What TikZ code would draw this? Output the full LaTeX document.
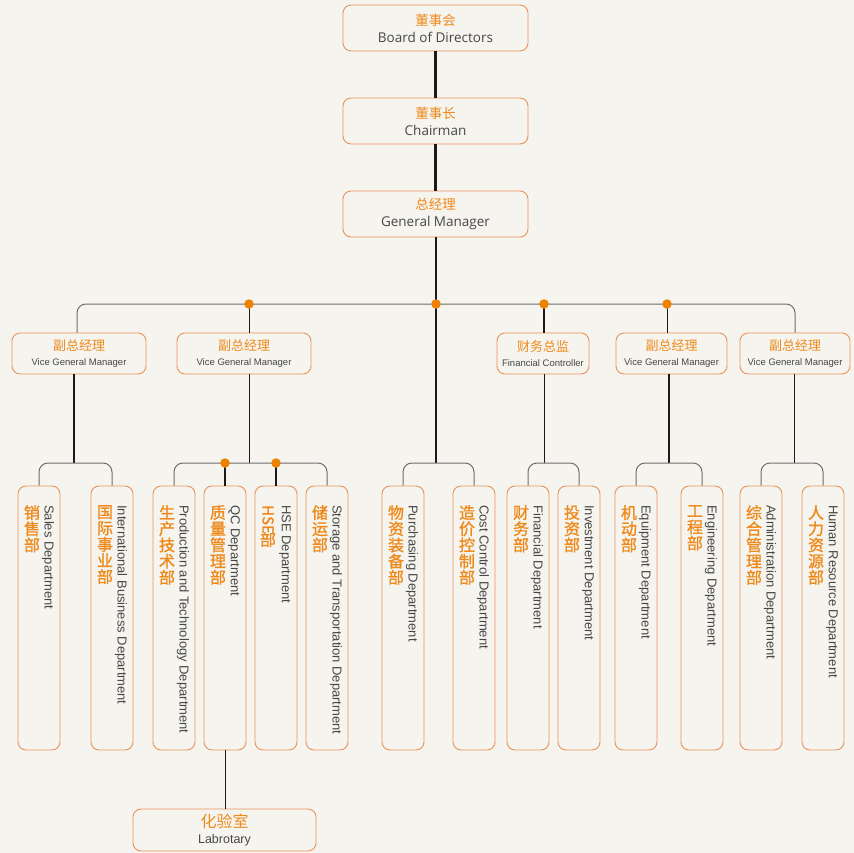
\documentclass[tikz,border=0pt]{standalone}
\usepackage{fontspec}
\setmainfont{Liberation Sans}
\newfontfamily\cjk{Noto Sans CJK SC}
\newfontfamily\cjkb{Noto Sans CJK SC}[FakeBold=1.2]
\newfontfamily\topfont{Open Sans}
\definecolor{bg}{HTML}{F6F4EE}
\definecolor{boxc}{HTML}{E9935A}
\definecolor{orangec}{HTML}{EE8A1C}
\definecolor{grayc}{HTML}{474747}
\definecolor{linec}{HTML}{1C1A18}
\definecolor{busc}{HTML}{6E6E6E}
\definecolor{dotc}{HTML}{EE8200}
\tikzset{
  box/.style={draw=boxc, line width=0.9pt, rounded corners=8pt, fill=bg, inner sep=0pt, align=center},
  topbox/.style={box, minimum width=185pt, minimum height=46pt, font=\fontsize{13.5}{17}\selectfont},
  vbox/.style={box, minimum height=41pt, font=\fontsize{9.5}{15}\selectfont},
  deptbox/.style={box, minimum width=42pt, minimum height=264pt},
  thickl/.style={draw=linec, line width=2.2pt},
  thinl/.style={draw=linec, line width=1pt},
  busl/.style={draw=busc, line width=1pt, rounded corners=9pt},
  dot/.style={circle, fill=dotc, inner sep=0pt, minimum size=9.5pt},
  cn/.style={font=\cjkb\fontsize{16}{16.2}\selectfont, text=orangec, align=center, inner sep=0pt, anchor=north},
  en/.style={font=\fontsize{13}{15}\selectfont, text=grayc, rotate=-90, anchor=west, inner sep=0pt}
}
\newcommand\deptnode[4]{%
  \node[deptbox] (#1) at (#2+21,618) {};
  \node[cn] (#1c) at (#2+14,505) {#3};
  \node[en] (#1e) at (#2+30,505) {#4};
}
\begin{document}
\begin{tikzpicture}[x=1pt,y=-1pt]
\useasboundingbox[fill=bg] (0,0) rectangle (854,853);

% top chain
\node[topbox] (bod) at (435.5,28) {{\cjk\color{orangec}董事会}\\{\topfont\color{grayc}Board of Directors}};
\node[topbox] (chair) at (435.5,121) {{\cjk\color{orangec}董事长}\\{\topfont\color{grayc}Chairman}};
\node[topbox] (gm) at (435.5,214) {{\cjk\color{orangec}总经理}\\{\topfont\color{grayc}General Manager}};

% level 2
\node[vbox, minimum width=134pt] (v1) at (79,353.5) {{\cjk\fontsize{13}{15}\selectfont\color{orangec}副总经理}\\{\color{grayc}Vice General Manager}};
\node[vbox, minimum width=134pt] (v2) at (244,353.5) {{\cjk\fontsize{13}{15}\selectfont\color{orangec}副总经理}\\{\color{grayc}Vice General Manager}};
\node[vbox, minimum width=92pt] (fc) at (543,353.5) {{\cjk\fontsize{13}{15}\selectfont\color{orangec}财务总监}\\{\color{grayc}Financial Controller}};
\node[vbox, minimum width=111pt] (v4) at (671.5,353.5) {{\cjk\fontsize{13}{15}\selectfont\color{orangec}副总经理}\\{\color{grayc}Vice General Manager}};
\node[vbox, minimum width=110pt] (v5) at (795,353.5) {{\cjk\fontsize{13}{15}\selectfont\color{orangec}副总经理}\\{\color{grayc}Vice General Manager}};

% level 3
\deptnode{sales}{18}{销\\售\\部}{Sales Department}
\deptnode{intl}{91}{国\\际\\事\\业\\部}{International Business Department}
\deptnode{prod}{153}{生\\产\\技\\术\\部}{Production and Technology Department}
\deptnode{qc}{204}{质\\量\\管\\理\\部}{QC Department}
\node[deptbox] (hse) at (276,618) {};
\node[font=\cjkb\fontsize{15}{15}\selectfont, text=orangec, rotate=-90, anchor=west, inner sep=0pt] (hsec1) at (268,505) {HSE};
\node[cn] (hsec2) at (268,532) {部};
\node[en] (hsee) at (285,505) {HSE Department};
\deptnode{stor}{306}{储\\运\\部}{Storage and Transportation Department}
\deptnode{purch}{382}{物\\资\\装\\备\\部}{Purchasing Department}
\deptnode{cost}{453}{造\\价\\控\\制\\部}{Cost Control Department}
\deptnode{fin}{507}{财\\务\\部}{Financial Department}
\deptnode{inv}{558}{投\\资\\部}{Investment Department}
\deptnode{equip}{615}{机\\动\\部}{Equipment Department}
\deptnode{eng}{681}{工\\程\\部}{Engineering Department}
\deptnode{admin}{740}{综\\合\\管\\理\\部}{Administration Department}
\deptnode{hr}{802}{人\\力\\资\\源\\部}{Human Resource Department}

% laboratory
\node[box, minimum width=183pt, minimum height=42pt, font=\fontsize{12.5}{16}\selectfont] (lab) at (224.5,830) {{\cjk\fontsize{16}{16}\selectfont\color{orangec}化验室}\\{\color{grayc}Labrotary}};

% coordinates
\coordinate (b1) at (77,304);
\coordinate (b2) at (249,304);
\coordinate (b3) at (436,304);
\coordinate (b4) at (544,304);
\coordinate (b5) at (667,304);
\coordinate (s1) at (74,463);
\coordinate (s2) at (249,463);
\coordinate (s3) at (436,463);
\coordinate (s4) at (544,463);
\coordinate (s5) at (669,463);
\coordinate (s6) at (794,463);

% top chain lines
\draw[thickl] (bod) -- (chair);
\draw[thickl] (chair) -- (gm);
\draw[thickl] (gm.south -| s3) -- (s3);

% main bus
\draw[busl] (v1.north -| b1) |- (b3) -| (v5.north);
\draw[thinl] (b2) -- (v2.north -| b2);
\draw[thickl] (b4) -- (fc.north -| b4);
\draw[thinl] (b5) -- (v4.north -| b5);

% level 2 down lines
\draw[thickl] (v1.south -| s1) -- (s1);
\draw[thinl] (v2.south -| s2) -- (s2);
\draw[thinl] (fc.south -| s4) -- (s4);
\draw[thickl] (v4.south -| s5) -- (s5);
\draw[thinl] (v5.south -| s6) -- (s6);

% sub buses
\draw[busl] (sales.north) |- (s1) -| (intl.north);
\draw[busl] (prod.north) |- (s2) -| (stor.north);
\draw[busl] (purch.north) |- (s3) -| (cost.north);
\draw[busl] (fin.north) |- (s4) -| (inv.north);
\draw[busl] (equip.north) |- (s5) -| (eng.north);
\draw[busl] (admin.north) |- (s6) -| (hr.north);
\draw[thickl] (qc.north |- s2) -- (qc.north);
\draw[thickl] (hse.north |- s2) -- (hse.north);

% lab line
\draw[thinl] (qc.south) -- (qc.south |- lab.north);

% dots
\node[dot] (d1) at (b2) {};
\node[dot] (d2) at (b3) {};
\node[dot] (d3) at (b4) {};
\node[dot] (d4) at (b5) {};
\node[dot] (d5) at (qc.north |- s2) {};
\node[dot] (d6) at (hse.north |- s2) {};
\end{tikzpicture}
\end{document}
